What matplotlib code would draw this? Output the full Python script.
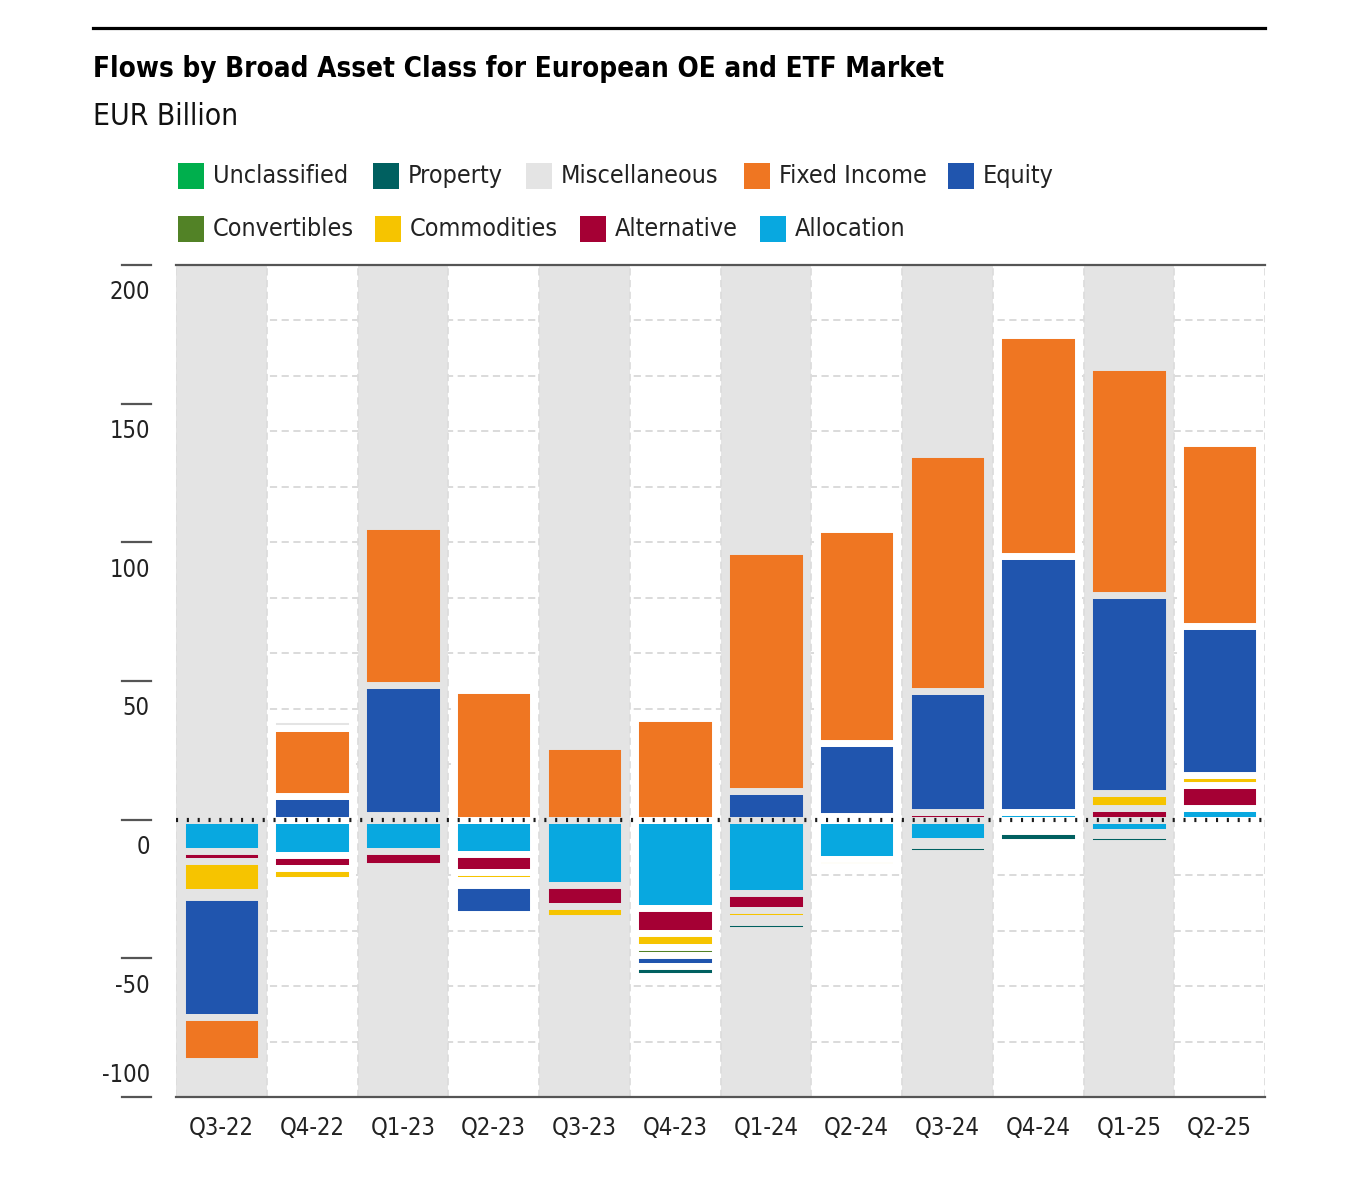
# -*- coding: utf-8 -*-
# flows.py
"""
Flows by broad asset class, European OE and ETF market
"""
import numpy as np
import matplotlib
matplotlib.use('Agg')
import matplotlib.pyplot as plt
from matplotlib.lines import Line2D
from matplotlib.patches import Rectangle

## data (EUR billion), stacked in alphabetical order from zero outward
quarters = ['Q3-22', 'Q4-22', 'Q1-23', 'Q2-23', 'Q3-23', 'Q4-23',
            'Q1-24', 'Q2-24', 'Q3-24', 'Q4-24', 'Q1-25', 'Q2-25']
allocation = [-11.2, -12.9, -11.2, -12.4, -23.4, -31.7, -26.3, -14.2, -7.7, 2.9, -4.6, 4.1]
alternative = [-3.6, -4.5, -5.4, -6.5, -7.9, -9.0, -6.4, 1.3, 2.6, -2.0, 4.2, 8.4]
commodities = [-11.2, -4.2, 1.6, -2.9, -4.1, -5.3, -2.6, -2.6, -1.4, -2.1, 5.3, 3.5]
convertibles = [-1.8, 0.0, 0.0, -1.8, 0.0, -2.7, -1.5, 0.0, 0.0, 0.0, -1.0, 0.0]
equity = [-43.2, 8.6, 47.1, -10.5, 0.0, -3.9, 10.3, 26.5, 43.9, 92.1, 71.6, 53.7]
fixed_income = [-15.9, 24.5, 57.2, 46.8, 26.6, 36.6, 86.6, 77.0, 85.5, 79.7, 82.3, 66.0]
miscellaneous = [0.0, 3.3, 0.0, 0.0, 0.0, 0.0, 0.0, 0.0, 0.0, 0.0, 0.0, 0.0]
property_ = [0.0, 0.0, 0.0, 0.0, 0.0, -3.6, -3.0, 0.0, -2.9, -3.8, -2.9, 0.0]
unclassified = [0.0] * 12

series = [
    ('Allocation', allocation, '#08a8e0'),
    ('Alternative', alternative, '#a50034'),
    ('Commodities', commodities, '#f6c400'),
    ('Convertibles', convertibles, '#528226'),
    ('Equity', equity, '#2055ae'),
    ('Fixed Income', fixed_income, '#ef7622'),
    ('Miscellaneous', miscellaneous, '#e4e4e4'),
    ('Property', property_, '#006060'),
    ('Unclassified', unclassified, '#00af4d'),
]

y_ticks = [200, 150, 100, 50, 0, -50, -100]
y_grid = [180, 160, 140, 120, 100, 80, 60, 40, 20, -20, -40, -60, -80]

FONT = ['DejaVu Sans']
BAND = '#e4e4e4'
W, H = 1366, 1188


def fx(px):
    return px / W


def fy(py):
    return 1 - py / H


def plot_flows(filename):
    """
    plot_flows
    """
    plt.rcParams['font.family'] = FONT
    plt.rcParams['font.stretch'] = 'condensed'
    fig = plt.figure(figsize=(W / 100, H / 100), dpi=100)
    ax = fig.add_axes([fx(176), fy(1097), fx(1265) - fx(176), (1097 - 265) / H])
    n = len(quarters)
    x = np.arange(n)

    ## background bands and grid
    for i in range(0, n, 2):
        ax.axvspan(i - 0.5, i + 0.5, color=BAND, lw=0, zorder=0.5)
    for g in y_grid:
        ax.axhline(g, color='#d8d8d8', lw=1.3, dashes=(4, 2.5), zorder=0.2)
    for b in np.arange(n + 1) - 0.5:
        ax.axvline(b, color='#dddddd', lw=1.3, dashes=(4, 2.5), zorder=0.6)

    ## stacked bars, gaps drawn in the column background colour
    edge = [BAND if i % 2 == 0 else 'white' for i in range(n)]
    pos_base = np.zeros(n)
    neg_base = np.zeros(n)
    for name, vals, color in series:
        v = np.array(vals, dtype=float)
        for base, part in ((pos_base, np.clip(v, 0, None)), (neg_base, np.clip(v, None, 0))):
            idx = np.nonzero(part)[0]
            if len(idx):
                ax.bar(x[idx], part[idx], bottom=base[idx], width=0.878, color=color,
                       edgecolor=[edge[i] for i in idx], linewidth=5.0, zorder=3)
            base += part

    ## zero line, frame lines
    ax.axhline(0, color='#1a1a1a', lw=3, dashes=(0.5, 2.1), zorder=6)
    ax.axhline(200, color='#555555', lw=1.6, zorder=6, clip_on=False)
    ax.axhline(-100, color='#555555', lw=1.6, zorder=6, clip_on=False)

    ax.set_xlim(-0.5, n - 0.5)
    ax.set_ylim(-100, 200)
    for s in ax.spines.values():
        s.set_visible(False)
    ax.set_yticks([])
    ax.set_xticks(x, quarters)
    ax.tick_params(axis='x', length=0, pad=14, labelsize=17, labelcolor='#222222')

    ## y ticks drawn to the left, labels sit below each mark
    trans = ax.get_yaxis_transform()
    for t in y_ticks:
        ax.add_line(Line2D([-0.0496, -0.023], [t, t], transform=trans, color='#555555',
                           lw=1.6, clip_on=False))
        ty = t + 8.0 if t == -100 else t - 9.8
        ax.text(-0.024, ty, '%d' % t, transform=trans, ha='right', va='center',
                fontsize=17, color='#222222')

    ## title block
    fig.add_artist(Line2D([fx(93), fx(1265)], [fy(28), fy(28)], color='black', lw=2.3))
    fig.text(fx(93), fy(77), 'Flows by Broad Asset Class for European OE and ETF Market',
             fontsize=20, fontweight='bold', va='baseline', ha='left', color='black')
    fig.text(fx(93), fy(125), 'EUR Billion', fontsize=21.5, va='baseline', ha='left',
             color='#111111')

    ## legend, two rows in reverse stacking order
    legend_rows = [
        [('Unclassified', 178), ('Property', 373), ('Miscellaneous', 526),
         ('Fixed Income', 744), ('Equity', 948)],
        [('Convertibles', 178), ('Commodities', 375), ('Alternative', 580),
         ('Allocation', 760)],
    ]
    colors = {name: c for name, _, c in series}
    for row, yc in zip(legend_rows, [176, 229]):
        for name, xl in row:
            fig.add_artist(Rectangle((fx(xl), fy(yc + 13)), fx(26), 26 / H,
                                     color=colors[name], lw=0))
            fig.text(fx(xl + 35), fy(yc), name, fontsize=18, va='center', ha='left',
                     color='#222222')

    fig.savefig(filename, dpi=100)
    plt.close(fig)
    return True


if __name__ == "__main__":
    plot_flows('out.png')
